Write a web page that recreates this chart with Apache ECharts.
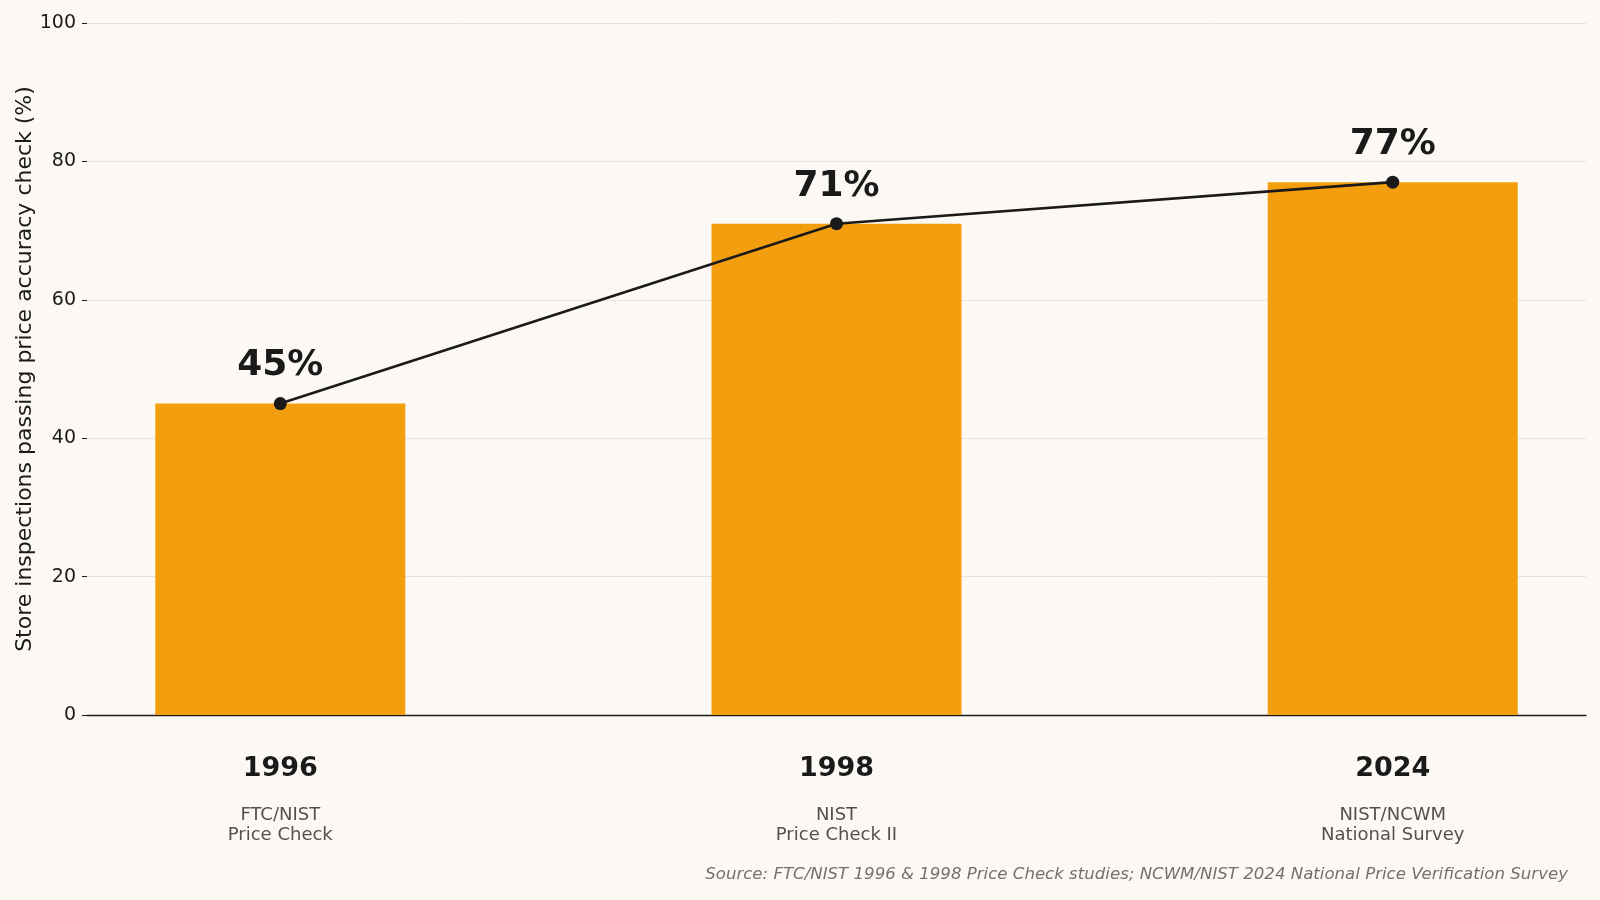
<!DOCTYPE html>
<html>
<head>
<meta charset="utf-8">
<title>Price accuracy checks</title>
<script src="https://cdn.jsdelivr.net/npm/echarts@6/dist/echarts.min.js"></script>
<style>
  html, body { margin: 0; padding: 0; background: #fcf9f5; }
  #chart { width: 1600px; height: 900px; }
</style>
</head>
<body>
<div id="chart"></div>
<script>
// data
const years = ['1996', '1998', '2024'];
const studyLines = [
    ['FTC/NIST', 'Price Check'],
    ['NIST', 'Price Check II'],
    ['NIST/NCWM', 'National Survey']
];
const passRates = [45, 71, 77];
const yTicks = [0, 20, 40, 60, 80, 100];
const sourceNote = 'Source: FTC/NIST 1996 & 1998 Price Check studies; NCWM/NIST 2024 National Price Verification Survey';

const FONT = 'DejaVu Sans';
const INK = '#1a1a1a';

const chart = echarts.init(document.getElementById('chart'));

const positions = years.map((_, i) => i);
const points = passRates.map((v, i) => [positions[i], v]);

const options = {
    backgroundColor: '#fcf9f5',
    animation: false,
    textStyle: { fontFamily: FONT },
    grid: { left: 87, right: 14, top: 23, bottom: 185, containLabel: false },
    xAxis: {
        type: 'value',
        min: -0.3475,
        max: 2.3475,
        splitLine: { show: false },
        axisTick: { show: false },
        axisLine: { show: true, onZero: false, lineStyle: { color: INK, width: 1.3 } },
        axisLabel: {
            customValues: positions,
            margin: 18,
            formatter: (val) => {
                const i = Math.round(val);
                return '{y|' + years[i] + '}\n{s|' + studyLines[i][0] + '}\n{s|' + studyLines[i][1] + '}';
            },
            rich: {
                y: { fontFamily: FONT, fontSize: 27, fontWeight: 'bold', color: INK, lineHeight: 72, align: 'center' },
                s: { fontFamily: FONT, fontSize: 18, color: '#555049', lineHeight: 20, align: 'center' }
            }
        }
    },
    yAxis: {
        type: 'value',
        min: yTicks[0],
        max: yTicks[yTicks.length - 1],
        interval: 20,
        name: 'Store inspections passing price accuracy check (%)',
        nameLocation: 'middle',
        nameGap: 51,
        nameMoveOverlap: false,
        nameTextStyle: { fontFamily: FONT, fontSize: 22, color: INK },
        axisLine: { show: false, onZero: false },
        axisTick: { show: true, length: 5, lineStyle: { color: INK, width: 1 } },
        axisLabel: { fontFamily: FONT, fontSize: 19, color: INK, margin: 11 },
        splitLine: { show: true, lineStyle: { color: '#e7e2dc', width: 1 } }
    },
    series: [
        {
            type: 'bar',
            data: points,
            barWidth: 250,
            itemStyle: { color: '#f39e0f' },
            z: 2
        },
        {
            type: 'line',
            data: points,
            symbol: 'circle',
            symbolSize: 13,
            lineStyle: { color: INK, width: 2.6 },
            itemStyle: { color: INK },
            label: {
                show: true,
                position: 'top',
                distance: 13,
                formatter: (p) => p.value[1] + '%',
                fontFamily: FONT,
                fontSize: 36,
                fontWeight: 'bold',
                color: INK
            },
            z: 3
        }
    ],
    graphic: [{
        type: 'text',
        right: 32,
        top: 866,
        style: {
            text: sourceNote,
            font: 'italic 16.6px "DejaVu Sans"',
            fill: '#75706a'
        }
    }]
};

chart.setOption(options);
</script>
</body>
</html>
